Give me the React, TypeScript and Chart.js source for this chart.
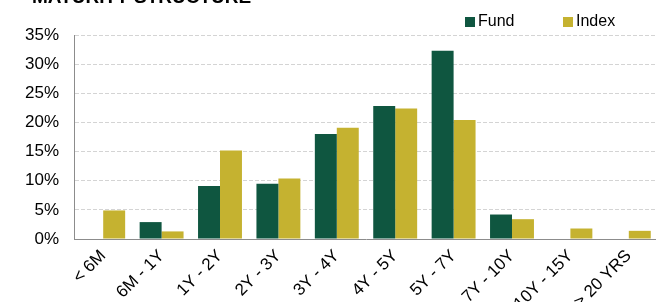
import React, { useEffect, useRef } from "react";
import { Chart, registerables } from "chart.js";

Chart.register(...registerables);

const categories = ["< 6M", "6M - 1Y", "1Y - 2Y", "2Y - 3Y", "3Y - 4Y", "4Y - 5Y", "5Y - 7Y", "7Y - 10Y", "10Y - 15Y", "> 20 YRS"];
const fundValues = [0, 2.9, 9.1, 9.5, 18.0, 22.8, 32.3, 4.2, 0, 0];
const indexValues = [4.9, 1.3, 15.2, 10.4, 19.1, 22.4, 20.4, 3.4, 1.8, 1.4];
const seriesNames = ["Fund", "Index"];
const seriesColors = ["#0f5640", "#c5b230"];
const yTicks = [0, 5, 10, 15, 20, 25, 30, 35];
const titleText = "MATURITY STRUCTURE";

const FONT = "'Liberation Sans', Arial, Helvetica, sans-serif";
const CW = 658;
const CH = 322;

const overlayPlugin = {
  id: "overlay",
  afterDraw(chart: any) {
    const ctx = chart.ctx;
    ctx.save();
    // title (clipped at top like the reference)
    ctx.fillStyle = "#000";
    ctx.font = `bold 19px ${FONT}`;
    ctx.textAlign = "left";
    ctx.textBaseline = "alphabetic";
    ctx.fillText(titleText, 32, 3);
    // legend
    const items = [
      { x: 465, label: chart.data.datasets[0].label, color: chart.data.datasets[0].backgroundColor },
      { x: 563, label: chart.data.datasets[1].label, color: chart.data.datasets[1].backgroundColor },
    ];
    ctx.font = `16px ${FONT}`;
    ctx.textBaseline = "middle";
    items.forEach((it) => {
      ctx.fillStyle = it.color;
      ctx.fillRect(it.x, 17, 10, 10);
      ctx.fillStyle = "#000";
      ctx.fillText(it.label, it.x + 13, 22);
    });
    ctx.restore();
  },
};

export default function App() {
  const ref = useRef<HTMLCanvasElement | null>(null);
  useEffect(() => {
    if (!ref.current) return;
    const chart = new Chart(ref.current, {
      type: "bar",
      data: {
        labels: categories,
        datasets: [
          { label: seriesNames[0], data: fundValues, backgroundColor: seriesColors[0], borderWidth: 0, categoryPercentage: 0.752, barPercentage: 1 },
          { label: seriesNames[1], data: indexValues, backgroundColor: seriesColors[1], borderWidth: 0, categoryPercentage: 0.752, barPercentage: 1 },
        ],
      },
      options: {
        responsive: false,
        animation: false,
        layout: { padding: { top: 35, left: 0, right: 0, bottom: 0 } },
        plugins: {
          legend: { display: false },
          title: { display: false },
          tooltip: { enabled: false },
        },
        scales: {
          x: {
            grid: { display: false, drawTicks: false },
            border: { display: true, color: "#8c8c8c", width: 1 },
            ticks: {
              color: "#000",
              font: { family: FONT, size: 17 },
              minRotation: 45,
              maxRotation: 45,
              autoSkip: false,
              padding: 7,
            },
            afterFit(scale: any) {
              scale.height = CH - 239;
            },
          },
          y: {
            min: 0,
            max: 35,
            afterBuildTicks(scale: any) {
              scale.ticks = yTicks.map((v) => ({ value: v }));
            },
            grid: {
              color: (c: any) => (c.tick && c.tick.value === 0 ? "rgba(0,0,0,0)" : "#d4d4d4"),
              lineWidth: 1,
              drawTicks: false,
            },
            border: { display: true, color: "#8c8c8c", width: 1, dash: [4, 2] },
            ticks: {
              color: "#000",
              font: { family: FONT, size: 17 },
              padding: 15,
              callback: (v: any) => `${v}%`,
            },
            afterFit(scale: any) {
              scale.width = 74;
            },
          },
        },
      },
      plugins: [overlayPlugin],
    } as any);
    return () => chart.destroy();
  }, []);
  return (
    <div style={{ position: "absolute", left: 0, top: 0, width: 656, height: 302, overflow: "hidden", background: "#fff" }}>
      <canvas ref={ref} width={CW} height={CH} style={{ display: "block" }} />
    </div>
  );
}
